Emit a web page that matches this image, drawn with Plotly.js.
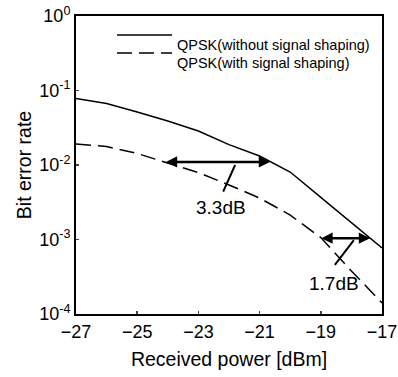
<!DOCTYPE html>
<html><head><meta charset="utf-8">
<script src="https://cdn.plot.ly/plotly-3.0.1.min.js"></script>
<style>html,body{margin:0;padding:0;background:#fff}#c{width:398px;height:377px}</style>
</head><body><div id="c"></div>
<script>
const power = [-27, -26, -25, -24, -23, -22, -21, -20, -19, -18, -17];
const berWithout = [0.078, 0.067, 0.0514, 0.039, 0.0286, 0.0188, 0.0132, 0.00805, 0.00368, 0.00169, 0.00077];
const berWith = [0.0191, 0.0177, 0.0143, 0.0105, 0.0079, 0.0054, 0.0036, 0.00213, 0.00106, 0.000378, 0.000141];
const seriesNames = ['QPSK(without signal shaping)', 'QPSK(with signal shaping)'];
const yTickVals = [1, 0.1, 0.01, 0.001, 0.0001];
const yTickText = ['10<sup>0</sup>', '10<sup>-1</sup>', '10<sup>-2</sup>', '10<sup>-3</sup>', '10<sup>-4</sup>'];
// gap annotations: [left x, right x, y (BER)]
const gap1 = [-24.11, -20.66, 0.011];
const gap2 = [-19.03, -17.39, 0.00104];
const leader1x = [-21.80, -22.19], leader1y = [0.01, 0.00439];
const leader2x = [-17.92, -18.54], leader2y = [0.000984, 0.000455];
const labels = ['3.3dB', '1.7dB'];
const labelPos = [[-22.26, 0.0027], [-18.57, 0.00026]];

const font = 'Liberation Sans, Arial, sans-serif';
const dashPat = '15px,7px';
const traces = [
  {x: power, y: berWithout, name: seriesNames[0], mode: 'lines', line: {color: '#000', width: 1.5}, showlegend: false},
  {x: power, y: berWith, name: seriesNames[1], mode: 'lines', line: {color: '#000', width: 1.5, dash: dashPat}, showlegend: false},
  {x: leader1x, y: leader1y, mode: 'lines', line: {color: '#000', width: 2}, showlegend: false, hoverinfo: 'skip'},
  {x: leader2x, y: leader2y, mode: 'lines', line: {color: '#000', width: 2}, showlegend: false, hoverinfo: 'skip'}
];
function arrow(g) {
  return {x: g[1], y: Math.log10(g[2]), ax: g[0], ay: Math.log10(g[2]), xref: 'x', yref: 'y', axref: 'x', ayref: 'y',
    showarrow: true, arrowhead: 2, arrowside: 'end+start', arrowsize: 0.9, arrowwidth: 2.5, arrowcolor: '#000', text: ''};
}
const legX0 = (117 - 76) / 306, legX1 = (172 - 76) / 306, legTX = (175 - 76) / 306;
const legY1 = (314 - 35) / 298, legY2 = (314 - 53) / 298;
const annotations = [
  arrow(gap1), arrow(gap2),
  {x: labelPos[0][0], y: Math.log10(labelPos[0][1]), xref: 'x', yref: 'y', text: labels[0], showarrow: false, font: {family: font, size: 19, color: '#000'}},
  {x: labelPos[1][0], y: Math.log10(labelPos[1][1]), xref: 'x', yref: 'y', text: labels[1], showarrow: false, font: {family: font, size: 19, color: '#000'}},
  {x: legTX, y: legY1, xref: 'paper', yref: 'paper', xanchor: 'left', text: seriesNames[0], showarrow: false, font: {family: font, size: 14.5, color: '#000'}},
  {x: legTX, y: legY2, xref: 'paper', yref: 'paper', xanchor: 'left', text: seriesNames[1], showarrow: false, font: {family: font, size: 14.5, color: '#000'}}
];
const shapes = [
  {type: 'line', xref: 'paper', yref: 'paper', x0: legX0, x1: legX1, y0: legY1, y1: legY1, line: {color: '#000', width: 1.5}},
  {type: 'line', xref: 'paper', yref: 'paper', x0: legX0, x1: legX1, y0: legY2, y1: legY2, line: {color: '#000', width: 1.5, dash: dashPat}}
];
const layout = {
  width: 398, height: 377,
  margin: {l: 76, r: 16, t: 16, b: 63},
  paper_bgcolor: '#fff', plot_bgcolor: '#fff',
  font: {family: font, color: '#000', size: 18},
  showlegend: false,
  xaxis: {range: [-27, -17], tick0: -27, dtick: 2, ticks: 'inside', ticklen: 3, tickwidth: 1.5,
    showline: true, linewidth: 2, linecolor: '#000', mirror: true, showgrid: false, zeroline: false,
    tickfont: {size: 18}, title: {text: 'Received power [dBm]', font: {size: 19.5}, standoff: 12}},
  yaxis: {type: 'log', range: [-4, 0], tickvals: yTickVals, ticktext: yTickText, ticks: 'inside', ticklen: 3, tickwidth: 1.5,
    showline: true, linewidth: 2, linecolor: '#000', mirror: true, showgrid: false, zeroline: false,
    tickfont: {size: 18}, title: {text: 'Bit error rate', font: {size: 19.5}, standoff: 2}},
  annotations: annotations, shapes: shapes
};
Plotly.newPlot('c', traces, layout, {displayModeBar: false, staticPlot: true});
</script></body></html>
